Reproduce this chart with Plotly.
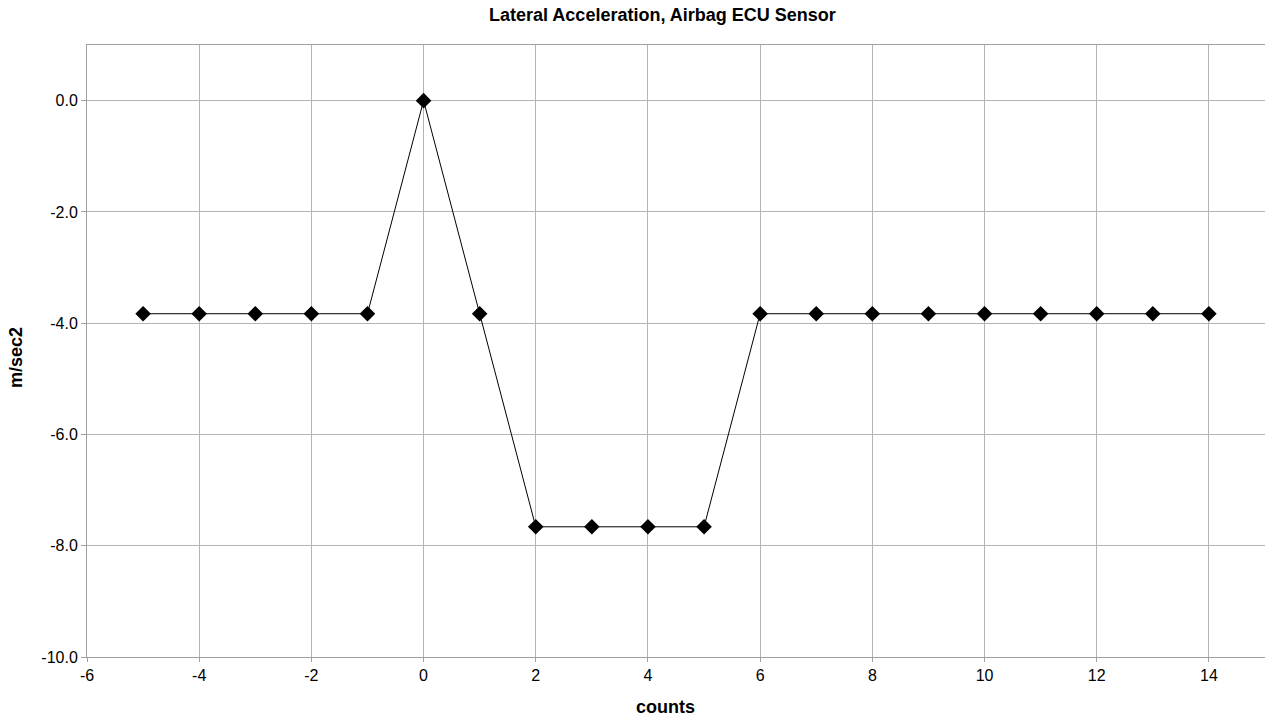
import plotly.graph_objects as go

counts = list(range(-5, 15))
accel = [-3.83, -3.83, -3.83, -3.83, -3.83, 0.0, -3.83, -7.66, -7.66, -7.66, -7.66,
         -3.83, -3.83, -3.83, -3.83, -3.83, -3.83, -3.83, -3.83, -3.83]

x_ticks = list(range(-6, 15, 2))
y_ticks = [0, -2, -4, -6, -8, -10]
x_tick_text = [str(v) for v in x_ticks]
y_tick_text = [f"{v:.1f}" for v in y_ticks]

W, H = 1265, 719
L, R, T, B = 87, 0, 45, 62

fig = go.Figure()
fig.add_trace(go.Scatter(
    x=counts, y=accel, mode="lines+markers",
    line=dict(color="black", width=1),
    marker=dict(symbol="diamond", size=12, color="black"),
    showlegend=False,
))

font = "Liberation Sans, Arial, sans-serif"
fig.update_layout(
    width=W, height=H,
    margin=dict(l=L, r=R, t=T, b=B),
    paper_bgcolor="white", plot_bgcolor="white",
    font=dict(family=font, size=16, color="black"),
    annotations=[
        dict(text="<b>Lateral Acceleration, Airbag ECU Sensor</b>", xref="paper", yref="paper",
             x=(662 - L) / (W - L - R), y=1, yshift=30, yanchor="middle", showarrow=False,
             font=dict(size=18, family=font, color="black")),
        dict(text="<b>counts</b>", xref="paper", yref="paper",
             x=(665 - L) / (W - L - R), y=0, yshift=-(707 - (H - B)), yanchor="middle",
             showarrow=False, font=dict(size=18, family=font, color="black")),
        dict(text="<b>m/sec2</b>", xref="paper", yref="paper", textangle=-90,
             x=0, xshift=-(L - 16), xanchor="center", yanchor="middle",
             y=(H - B - 358) / (H - T - B), showarrow=False,
             font=dict(size=18, family=font, color="black")),
    ],
    xaxis=dict(
        range=[-6, 15], tickvals=x_ticks, ticktext=x_tick_text,
        showgrid=True, gridcolor="#b4b4b4", gridwidth=1,
        showline=True, linecolor="#a0a0a0", linewidth=1, mirror=True,
        ticks="outside", ticklen=4, tickcolor="#a0a0a0",
        zeroline=False, tickfont=dict(size=16),
    ),
    yaxis=dict(
        range=[-10, 1], tickvals=y_ticks, ticktext=y_tick_text,
        showgrid=True, gridcolor="#b4b4b4", gridwidth=1,
        showline=True, linecolor="#a0a0a0", linewidth=1,
        ticks="outside", ticklen=5, tickcolor="#a0a0a0",
        zeroline=False, tickfont=dict(size=16),
    ),
)

fig.write_html("out.html")
